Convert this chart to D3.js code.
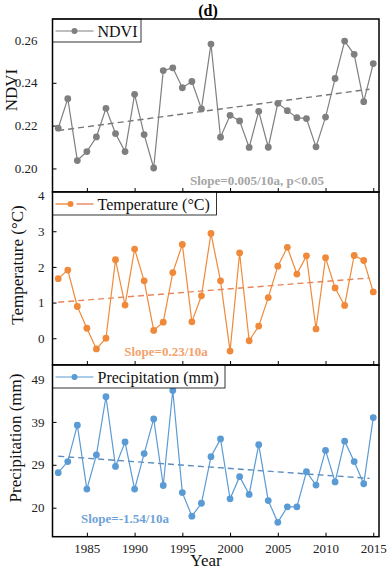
<!DOCTYPE html>
<html>
<head>
<meta charset="utf-8">
<script src="https://cdn.jsdelivr.net/npm/d3@7"></script>
<style>
    body { margin: 0; background: #fff; }
    svg { display: block; }
    svg text { font-family: "Liberation Serif", "Times New Roman", serif !important; }
</style>
</head>
<body>
<svg id="chart" width="392" height="572"></svg>
<script>
// Data, 1982-2015

var years = d3.range(1982, 2016);

var ndvi = [0.2188, 0.2326, 0.2037, 0.2079, 0.2147, 0.2281, 0.2163, 0.2079, 0.2346, 0.2158,
    0.2002, 0.2457, 0.2470, 0.2377, 0.2406, 0.2278, 0.2581, 0.2146, 0.2248, 0.2222,
    0.2098, 0.2267, 0.2099, 0.2304, 0.2270, 0.2237, 0.2233, 0.2101, 0.2240, 0.2420,
    0.2595, 0.2533, 0.2312, 0.2490];

var temperature = [1.67, 1.91, 0.89, 0.28, -0.30, 0.00, 2.20, 0.93, 2.50, 1.61,
    0.22, 0.45, 1.84, 2.63, 0.46, 1.19, 2.94, 1.61, -0.36, 2.39,
    -0.07, 0.34, 1.14, 2.02, 2.55, 1.80, 2.31, 0.26, 2.26, 1.41,
    0.92, 2.32, 2.18, 1.30];

var precipitation = [27.9, 30.4, 38.6, 24.2, 31.9, 45.0, 29.3, 34.8, 24.2, 32.2,
    40.0, 25.0, 46.4, 23.4, 18.1, 21.0, 31.5, 35.5, 22.0, 27.0,
    23.0, 34.2, 21.6, 16.7, 20.2, 20.2, 28.1, 25.1, 32.9, 25.8,
    35.0, 30.4, 25.4, 40.3];

// trend lines: values at both ends
var trendYears = [1982, 2014.6];
var ndviTrend = [0.2177, 0.2370];
var temperatureTrend = [1.01, 1.69];
var precipitationTrend = [31.6, 26.6];

var xTicks = [1985, 1990, 1995, 2000, 2005, 2010, 2015];
var ndviTicks = [0.20, 0.22, 0.24, 0.26];
var temperatureTicks = [0, 1, 2, 3, 4];
var precipitationTicks = [20, 29.67, 39.33, 49];

var panels = [
    {
        values: ndvi, trend: ndviTrend, ticks: ndviTicks,
        domain: [0.189, 0.2698], top: 19, bottom: 192,
        format: d3.format(".2f"), pad: 15,
        yLabel: "NDVI", labelX: 11, labelY: 90, legend: "NDVI", legendWidth: 88.5,
        color: "#7f7f7f", trendColor: "#767676", trendSplit: false,
        slope: "Slope=0.005/10a, p<0.05", slopeColor: "#a5a5a5", slopeX: 257, slopeY: 185
    },
    {
        values: temperature, trend: temperatureTrend, ticks: temperatureTicks,
        domain: [-0.75, 4.1], top: 192, bottom: 365,
        format: d3.format("d"), pad: 8,
        yLabel: "Temperature (\u00b0C)", labelX: 17, labelY: 265, legend: "Temperature (\u00b0C)", legendWidth: 164,
        color: "#f08a3a", trendColor: "#e8855c", trendSplit: true,
        slope: "Slope=0.23/10a", slopeColor: "#f3a26c", slopeX: 166, slopeY: 356
    },
    {
        values: precipitation, trend: precipitationTrend, ticks: precipitationTicks,
        domain: [13.47, 52.15], top: 365, bottom: 536.7,
        format: function(d) { return Math.floor(d); }, pad: 8,
        yLabel: "Precipitation (mm)", labelX: 15, labelY: 438, legend: "Precipitation (mm)", legendWidth: 172.5,
        color: "#5b9bd5", trendColor: "#5b8dbf", trendSplit: false,
        slope: "Slope=-1.54/10a", slopeColor: "#6fa3d8", slopeX: 125, slopeY: 523
    }
];

var left = 52.5, right = 379;

var svg = d3.select("#chart");

var x = d3.scaleLinear()
    .domain([1981.4, 2015.6])
    .range([left, right]);

// Title

svg.append("text")
    .attr("x", 208)
    .attr("y", 16)
    .attr("text-anchor", "middle")
    .attr("font-size", 16)
    .attr("font-weight", "bold")
    .text("(d)");

function styleAxis(a) {
    a.attr("font-family", null);
    a.select(".domain").remove();
    a.selectAll("text")
        .attr("font-size", 13)
        .attr("fill", "#222");
    a.selectAll("line").attr("stroke", "#000").attr("stroke-width", 1);
}

panels.forEach(function(p, idx) {
    var y = d3.scaleLinear()
        .domain(p.domain)
        .range([p.bottom, p.top]);

    var g = svg.append("g");

    // Axes with inward ticks

    var yAxis = d3.axisLeft(y)
        .tickValues(p.ticks)
        .tickFormat(p.format)
        .tickSizeInner(-4)
        .tickSizeOuter(0)
        .tickPadding(p.pad);

    g.append("g")
        .attr("transform", "translate(" + left + ",0)")
        .call(yAxis)
        .call(styleAxis);

    var xAxis = d3.axisBottom(x)
        .tickValues(xTicks)
        .tickFormat(idx === 2 ? d3.format("d") : "")
        .tickSizeInner(-4)
        .tickSizeOuter(0)
        .tickPadding(7);

    g.append("g")
        .attr("transform", "translate(0," + p.bottom + ")")
        .call(xAxis)
        .call(styleAxis);

    // Trend line

    g.append("line")
        .attr("x1", x(trendYears[0]))
        .attr("y1", y(p.trend[0]))
        .attr("x2", x(trendYears[1]))
        .attr("y2", y(p.trend[1]))
        .attr("stroke", p.trendColor)
        .attr("stroke-width", 1.4)
        .attr("stroke-dasharray", "6,4");

    // Series

    var line = d3.line()
        .x(function(d, i) { return x(years[i]); })
        .y(function(d) { return y(d); });

    g.append("path")
        .datum(p.values)
        .attr("d", line)
        .attr("fill", "none")
        .attr("stroke", p.color)
        .attr("stroke-width", 1.2);

    g.selectAll("circle")
        .data(p.values)
        .enter()
        .append("circle")
        .attr("cx", function(d, i) { return x(years[i]); })
        .attr("cy", function(d) { return y(d); })
        .attr("r", 3.4)
        .attr("fill", p.color);

    // Slope annotation

    g.append("text")
        .attr("x", p.slopeX)
        .attr("y", p.slopeY)
        .attr("text-anchor", "middle")
        .attr("font-size", 13)
        .attr("font-weight", "bold")
        .attr("fill", p.slopeColor)
        .text(p.slope);

    // Legend box

    var lg = g.append("g")
        .attr("transform", "translate(" + left + "," + p.top + ")");

    lg.append("rect")
        .attr("width", p.legendWidth)
        .attr("height", 23)
        .attr("fill", "#fff")
        .attr("stroke", "#000")
        .attr("stroke-width", 0.8);

    if (p.trendSplit) {
        lg.append("line")
            .attr("x1", 3).attr("x2", 19).attr("y1", 12).attr("y2", 12)
            .attr("stroke", p.color).attr("stroke-width", 1.4);
        lg.append("line")
            .attr("x1", 24).attr("x2", 41).attr("y1", 12).attr("y2", 12)
            .attr("stroke", p.trendColor).attr("stroke-width", 1.4);
        lg.append("circle")
            .attr("cx", 18).attr("cy", 12).attr("r", 3)
            .attr("fill", p.color);
    } else {
        lg.append("line")
            .attr("x1", 3).attr("x2", 41).attr("y1", 12).attr("y2", 12)
            .attr("stroke", p.color).attr("stroke-width", 1.2);
        lg.append("circle")
            .attr("cx", 22).attr("cy", 12).attr("r", 3)
            .attr("fill", p.color);
    }

    lg.append("text")
        .attr("x", 45)
        .attr("y", 17.5)
        .attr("font-size", 16)
        .attr("fill", "#111")
        .text(p.legend);

    // Y title

    g.append("text")
        .attr("transform", "translate(" + p.labelX + "," + p.labelY + ") rotate(-90)")
        .attr("text-anchor", "middle")
        .attr("dy", "0.35em")
        .attr("font-size", 17)
        .attr("fill", "#111")
        .text(p.yLabel);

    // Frame

    g.append("rect")
        .attr("x", left)
        .attr("y", p.top)
        .attr("width", right - left)
        .attr("height", p.bottom - p.top)
        .attr("fill", "none")
        .attr("stroke", "#000")
        .attr("stroke-width", 1.5);
});

svg.append("text")
    .attr("x", 206)
    .attr("y", 566)
    .attr("text-anchor", "middle")
    .attr("font-size", 17)
    .attr("fill", "#111")
    .text("Year");
</script>
</body>
</html>
